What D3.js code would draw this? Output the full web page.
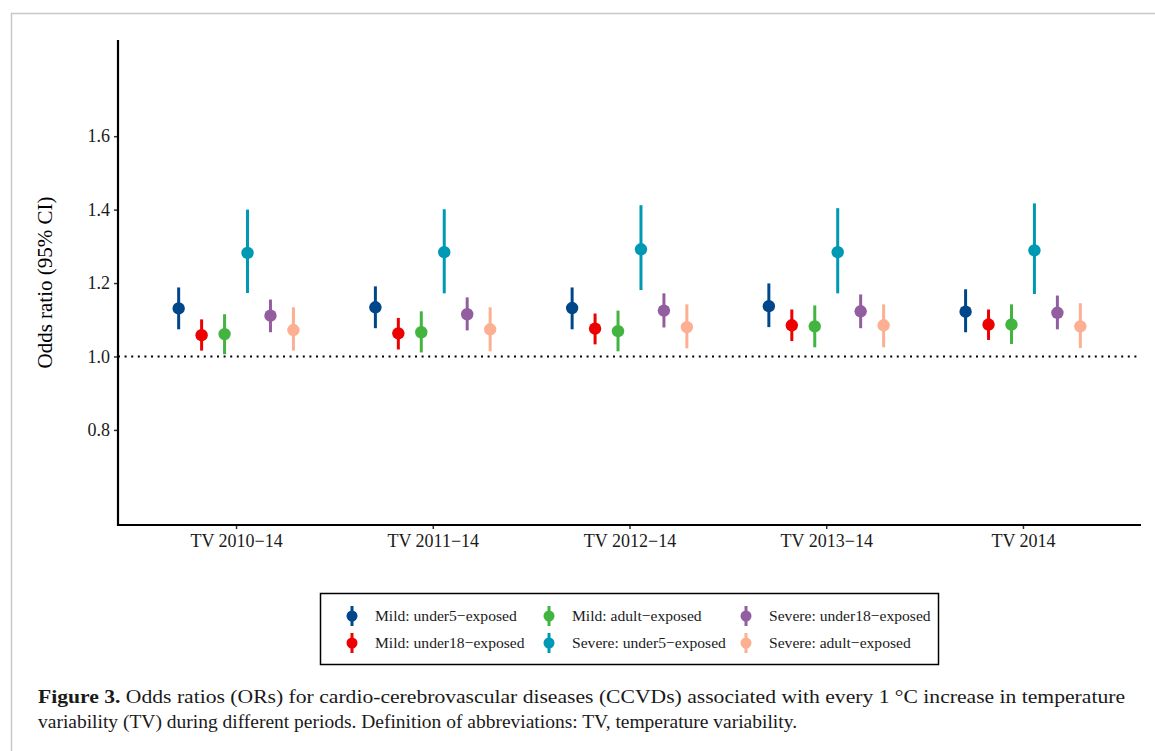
<!DOCTYPE html>
<html>
<head>
<meta charset="utf-8">
<script src="https://cdn.jsdelivr.net/npm/d3@7"></script>
<style>
  html, body { margin: 0; padding: 0; background: #fff; }
  svg text { font-family: "Liberation Serif", "Times New Roman", serif; }
</style>
</head>
<body>
<div id="chart"></div>
<script>
// Períodos (eixo x)
const periods = ['TV 2010−14', 'TV 2011−14', 'TV 2012−14', 'TV 2013−14', 'TV 2014'];
// Grupos de exposição (legenda)
const groups = [
  'Mild: under5−exposed', 'Mild: under18−exposed', 'Mild: adult−exposed',
  'Severe: under5−exposed', 'Severe: under18−exposed', 'Severe: adult−exposed'
];
const colours = ['#00468B', '#ED0000', '#42B540', '#0099B4', '#925E9F', '#FDAF91'];

// OR estimado, por grupo (linhas) e período (colunas)
const estimate = [
  [1.131, 1.134, 1.132, 1.137, 1.122],
  [1.058, 1.063, 1.076, 1.085, 1.087],
  [1.061, 1.066, 1.069, 1.082, 1.087],
  [1.282, 1.284, 1.292, 1.284, 1.289],
  [1.111, 1.115, 1.125, 1.123, 1.119],
  [1.072, 1.074, 1.080, 1.085, 1.082]
];
// IC 95% inferior
const lower = [
  [1.074, 1.077, 1.074, 1.080, 1.066],
  [1.016, 1.019, 1.033, 1.042, 1.045],
  [1.006, 1.011, 1.014, 1.025, 1.034],
  [1.173, 1.172, 1.181, 1.172, 1.170],
  [1.066, 1.071, 1.079, 1.077, 1.074],
  [1.016, 1.014, 1.022, 1.025, 1.023]
];
// IC 95% superior
const upper = [
  [1.188, 1.191, 1.188, 1.199, 1.183],
  [1.101, 1.105, 1.117, 1.128, 1.128],
  [1.115, 1.123, 1.125, 1.139, 1.142],
  [1.400, 1.401, 1.412, 1.404, 1.417],
  [1.155, 1.161, 1.172, 1.169, 1.166],
  [1.134, 1.134, 1.142, 1.142, 1.145]
];
const yTicks = [0.8, 1.0, 1.2, 1.4, 1.6];

const width = 1155, height = 751;
const svg = d3.select('#chart').append('svg')
  .attr('width', width)
  .attr('height', height);

// Moldura cinza da figura
svg.append('rect')
  .attr('x', 11.5).attr('y', 13.5)
  .attr('width', width).attr('height', height)
  .attr('fill', 'none')
  .attr('stroke', '#c8c8c8')
  .attr('stroke-width', 1.5);

// Área do painel
const panel = { left: 118, right: 1141, top: 40, bottom: 525 };

// Escalas
const x = d3.scalePoint()
  .domain(periods)
  .range([panel.left, panel.right])
  .padding(0.6);

const dodge = d3.scaleBand()
  .domain(groups)
  .range([-0.35 * x.step(), 0.35 * x.step()]);

const y = d3.scaleLinear()
  .domain([0.541, 1.862])
  .range([panel.bottom, panel.top]);

// Linha de referência OR = 1
svg.append('line')
  .attr('x1', panel.left).attr('x2', panel.right - 2)
  .attr('y1', y(1)).attr('y2', y(1))
  .attr('stroke', '#000')
  .attr('stroke-width', 2)
  .attr('stroke-dasharray', '2,4.6');

// Eixo y
const yAxis = svg.append('g')
  .attr('transform', `translate(${panel.left},0)`)
  .call(d3.axisLeft(y).tickValues(yTicks).tickFormat(d3.format('.1f')).tickSize(4).tickPadding(4));
yAxis.select('.domain').remove();
yAxis.selectAll('.tick line').attr('stroke', '#333').attr('stroke-width', 1.5);
yAxis.selectAll('.tick text')
  .attr('fill', '#1a1a1a')
  .style('font-size', '18px')
  .style('font-family', '"Liberation Serif", serif');

// Eixo x
const xAxis = svg.append('g')
  .attr('transform', `translate(0,${panel.bottom})`)
  .call(d3.axisBottom(x).tickSize(4).tickPadding(5));
xAxis.select('.domain').remove();
xAxis.selectAll('.tick line').attr('stroke', '#333').attr('stroke-width', 1.5);
xAxis.selectAll('.tick text')
  .attr('fill', '#1a1a1a')
  .style('font-size', '18px')
  .style('font-family', '"Liberation Serif", serif');

// Linhas dos eixos
svg.append('path')
  .attr('d', `M${panel.left},${panel.top}V${panel.bottom}H${panel.right}`)
  .attr('fill', 'none')
  .attr('stroke', '#000')
  .attr('stroke-width', 2.2);

// Título do eixo y
svg.append('text')
  .attr('transform', `translate(52,${(panel.top + panel.bottom) / 2}) rotate(-90)`)
  .attr('text-anchor', 'middle')
  .style('font-size', '21px')
  .text('Odds ratio (95% CI)');

// Pontos + intervalos
const rows = [];
groups.forEach((g, gi) => {
  periods.forEach((p, pi) => {
    rows.push({ group: g, period: p, colour: colours[gi], est: estimate[gi][pi], lo: lower[gi][pi], hi: upper[gi][pi] });
  });
});
const cx = d => x(d.period) + dodge(d.group) + dodge.bandwidth() / 2;

const marks = svg.append('g').selectAll('g.pr')
  .data(rows)
  .join('g')
  .attr('class', 'pr');
marks.append('line')
  .attr('x1', cx).attr('x2', cx)
  .attr('y1', d => y(d.lo)).attr('y2', d => y(d.hi))
  .attr('stroke', d => d.colour)
  .attr('stroke-width', 3);
marks.append('circle')
  .attr('cx', cx)
  .attr('cy', d => y(d.est))
  .attr('r', 6.2)
  .attr('fill', d => d.colour);

// Legenda
const legend = svg.append('g');
legend.append('rect')
  .attr('x', 320.5).attr('y', 593.5)
  .attr('width', 618).attr('height', 71)
  .attr('fill', 'none')
  .attr('stroke', '#000')
  .attr('stroke-width', 1.5);

const legCols = [352, 549, 746];
const legRows = [616, 643];
const items = legend.selectAll('g.item')
  .data(groups)
  .join('g')
  .attr('class', 'item')
  .attr('transform', (d, i) => `translate(${legCols[Math.floor(i / 2)]},${legRows[i % 2]})`);
items.append('line')
  .attr('y1', -10).attr('y2', 10)
  .attr('stroke', (d, i) => colours[i])
  .attr('stroke-width', 3);
items.append('circle')
  .attr('r', 5.5)
  .attr('fill', (d, i) => colours[i]);
items.append('text')
  .attr('x', 23)
  .attr('dy', '0.35em')
  .style('font-size', '15.6px')
  .attr('fill', '#1a1a1a')
  .text(d => d);

// Legenda da figura
const caption = svg.append('g').style('font-size', '19px').attr('fill', '#1a1a1a');
const line1 = caption.append('text')
  .attr('x', 38).attr('y', 703)
  .attr('textLength', 1087)
  .attr('lengthAdjust', 'spacingAndGlyphs');
line1.append('tspan').style('font-weight', 'bold').text('Figure 3.');
line1.append('tspan').text(' Odds ratios (ORs) for cardio-cerebrovascular diseases (CCVDs) associated with every 1 °C increase in temperature');
caption.append('text')
  .attr('x', 38).attr('y', 728)
  .attr('textLength', 759)
  .attr('lengthAdjust', 'spacingAndGlyphs')
  .text('variability (TV) during different periods. Definition of abbreviations: TV, temperature variability.');
</script>
</body>
</html>
